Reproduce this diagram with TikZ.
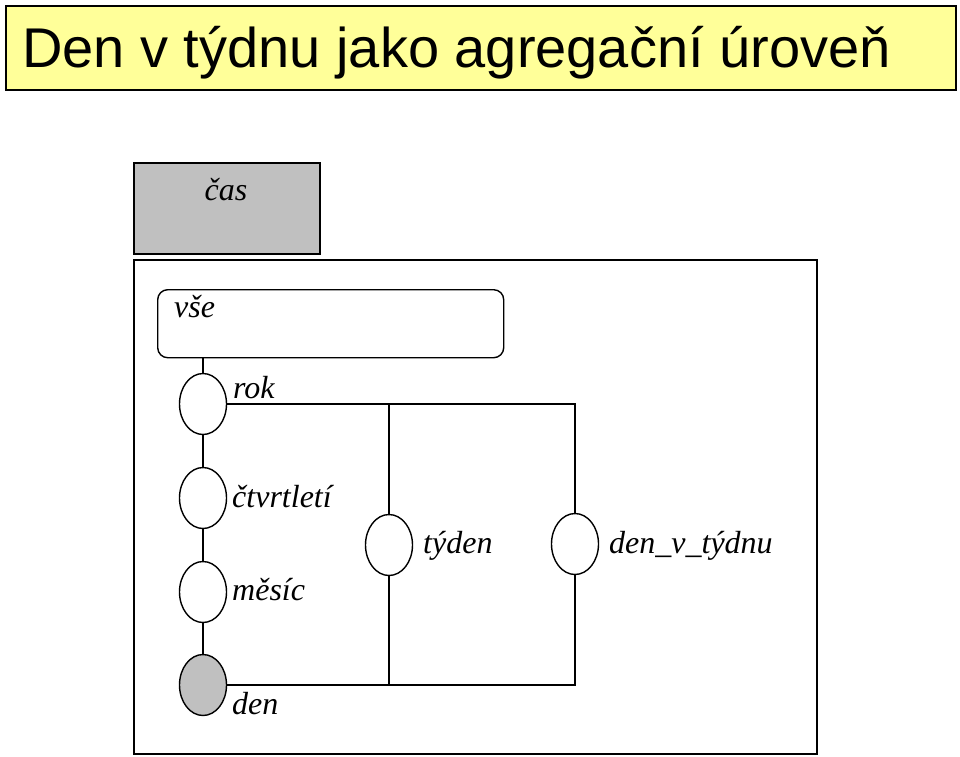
\documentclass[tikz,border=0pt]{standalone}
\usepackage{fontspec}
\setmainfont{Liberation Serif}
\newfontfamily\arialfont{Liberation Sans}
\usetikzlibrary{shapes.geometric}
\definecolor{titleyellow}{HTML}{FFFF99}
\definecolor{boxgray}{HTML}{C0C0C0}
\tikzset{
  lvl/.style={ellipse, draw, line width=1.4pt, minimum width=47pt, minimum height=61pt, inner sep=0pt, fill=white},
  lbl/.style={anchor=base west, inner sep=0pt, font=\fontsize{32}{38}\selectfont\itshape},
  conn/.style={line width=1.4pt},
}
\begin{document}
\begin{tikzpicture}[x=1pt,y=-1pt]
\useasboundingbox (0,0) rectangle (960,756);
% title
\node[draw, line width=1.8pt, fill=titleyellow, minimum width=950pt, minimum height=84pt, inner sep=0pt, anchor=north west] (titlebox) at (5,5) {};
\node[anchor=base west, inner sep=0pt, font=\arialfont\fontsize{56}{60}\selectfont] (title) at (22,67) {Den v týdnu jako agregační úroveň};
% cas box
\node[draw, line width=1.8pt, fill=boxgray, minimum width=186pt, minimum height=91pt, inner sep=0pt, anchor=north west] (casbox) at (133,162) {};
\node[anchor=base, inner sep=0pt, font=\fontsize{32}{38}\selectfont\itshape] (cas) at (226,200) {čas};
% main box
\node[draw, line width=1.8pt, minimum width=683pt, minimum height=494pt, inner sep=0pt, anchor=north west] (mainbox) at (133,259) {};
% vse
\node[draw, line width=1.4pt, rounded corners=10pt, minimum width=346pt, minimum height=68pt, inner sep=0pt, anchor=north west] (vse) at (157,289) {};
\node[lbl] (vselbl) at (174,317) {vše};
% ellipses
\node[lvl] (rok) at (203,404) {};
\node[lvl] (ctvrt) at (203,498) {};
\node[lvl] (mesic) at (203,592) {};
\node[lvl, fill=boxgray] (den) at (203,685) {};
\node[lvl] (tyden) at (389,545) {};
\node[lvl] (dvt) at (575,544) {};
% labels
\node[lbl] (roklbl) at (233,398) {rok};
\node[lbl] (ctvrtlbl) at (232,507) {čtvrtletí};
\node[lbl] (mesiclbl) at (232,600) {měsíc};
\node[lbl] (denlbl) at (232,714) {den};
\node[lbl] (tydenlbl) at (423,553) {týden};
\node[lbl] (dvtlbl) at (609,553) {den\_v\_týdnu};
% connectors
\draw[conn] (rok.north) -- (rok.north |- vse.south);
\draw[conn] (rok) -- (ctvrt);
\draw[conn] (ctvrt) -- (mesic);
\draw[conn] (mesic) -- (den);
\coordinate (jtop) at (rok.east -| tyden);
\coordinate (jbot) at (den.east -| tyden);
\draw[conn] (rok.east) -- (jtop) -- (tyden.north);
\draw[conn] (jtop) -| (dvt.north);
\draw[conn] (den.east) -- (jbot) -- (tyden.south);
\draw[conn] (jbot) -| (dvt.south);
\end{tikzpicture}
\end{document}
